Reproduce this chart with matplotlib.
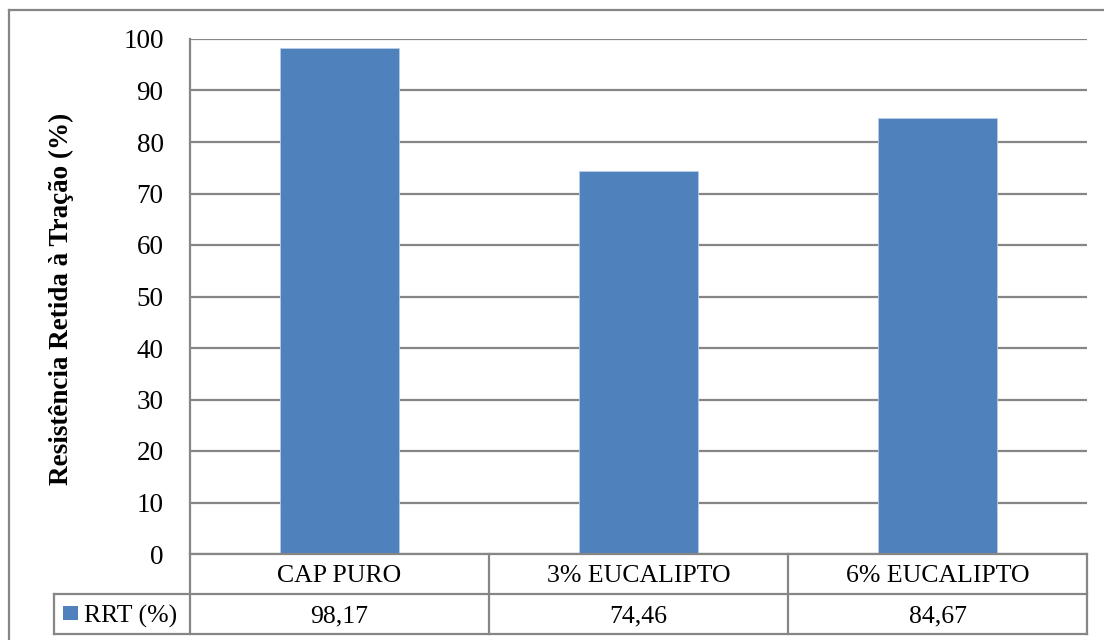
import matplotlib
matplotlib.use("Agg")
import matplotlib.pyplot as plt
from matplotlib.patches import Rectangle
from matplotlib.lines import Line2D

categories = ["CAP PURO", "3% EUCALIPTO", "6% EUCALIPTO"]
rrt_values = [98.17, 74.46, 84.67]
value_labels = ["98,17", "74,46", "84,67"]
series_name = "RRT (%)"
y_label = "Resistência Retida à Tração (%)"
y_ticks = [0, 10, 20, 30, 40, 50, 60, 70, 80, 90, 100]

plt.rcParams["font.family"] = ["Liberation Serif", "DejaVu Serif"]

BAR_COLOR = "#4F81BD"
GRID_COLOR = "#868686"
W, H = 1104, 640

fig = plt.figure(figsize=(W / 100, H / 100), dpi=100)


def fx(px):
    return px / W


def fy(py):
    return 1 - py / H


# plot area
left, right, top, bottom = 190, 1087, 39, 554
ax = fig.add_axes([fx(left), fy(bottom), fx(right - left), fy(top) - fy(bottom)])
x = list(range(len(categories)))
ax.bar(x, rrt_values, width=0.4, color=BAR_COLOR, edgecolor="#B9CDE5",
       linewidth=0.6, zorder=3)
ax.set_xlim(-0.5, len(categories) - 0.5)
ax.set_ylim(0, 100)
ax.set_yticks(y_ticks)
ax.set_yticklabels([str(t) for t in y_ticks], fontsize=19.5)
ax.tick_params(axis="y", length=0, pad=19)
ax.tick_params(axis="x", length=0, labelbottom=False)
ax.yaxis.grid(True, color=GRID_COLOR, linewidth=1.6, zorder=0)
for s in ["top", "right", "bottom"]:
    ax.spines[s].set_visible(False)
ax.spines["left"].set_color(GRID_COLOR)
ax.spines["left"].set_linewidth(1.6)
ax.set_ylabel(y_label, fontsize=19.5, fontweight="bold")
ax.yaxis.label.set_va("center")
ax.yaxis.set_label_coords(-(left - 61) / (right - left), 0.5 - 2 / (bottom - top))

# data table below the plot area
row_h = 40
row1_top, row1_bot = bottom, bottom + row_h
row2_bot = row1_bot + row_h
label_left = 54
col_w = (right - left) / len(categories)
lw = 1.6


def hline(y, x0, x1):
    fig.add_artist(Line2D([fx(x0), fx(x1)], [fy(y), fy(y)], color=GRID_COLOR,
                          linewidth=lw, transform=fig.transFigure))


def vline(xp, y0, y1):
    fig.add_artist(Line2D([fx(xp), fx(xp)], [fy(y0), fy(y1)], color=GRID_COLOR,
                          linewidth=lw, transform=fig.transFigure))


hline(row1_top, left, right)
hline(row1_bot, label_left, right)
hline(row2_bot, label_left, right)
vline(label_left, row1_bot, row2_bot)
for i in range(len(categories) + 1):
    vline(left + i * col_w, row1_top, row2_bot)

for i, (cat, val) in enumerate(zip(categories, value_labels)):
    cx = left + (i + 0.5) * col_w
    fig.text(fx(cx), fy((row1_top + row1_bot) / 2 + 2), cat, ha="center",
             va="center", fontsize=18.5)
    fig.text(fx(cx), fy((row1_bot + row2_bot) / 2 + 2), val, ha="center",
             va="center", fontsize=18.5)

# legend key in the row header
fig.add_artist(Rectangle((fx(63), fy(620)), fx(15), fy(606) - fy(620),
                         transform=fig.transFigure, facecolor=BAR_COLOR,
                         edgecolor="none"))
fig.text(fx(84), fy((row1_bot + row2_bot) / 2 + 2), series_name, ha="left",
         va="center", fontsize=18.5)

# chart frame
fig.add_artist(Line2D([fx(9), fx(9)], [fy(10), 0], color=GRID_COLOR,
                      linewidth=1.6, transform=fig.transFigure))
fig.add_artist(Line2D([fx(9), 1], [fy(10), fy(10)], color=GRID_COLOR,
                      linewidth=1.6, transform=fig.transFigure))

fig.savefig("out.png", dpi=100)
